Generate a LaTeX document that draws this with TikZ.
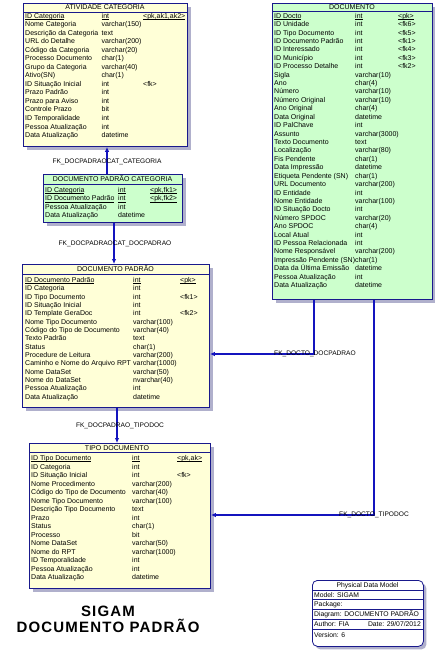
\documentclass[tikz,border=0pt]{standalone}
\usepackage{fontspec}
\setmainfont{Liberation Sans}
\newfontfamily\bigtitlefont[LetterSpace=8]{Liberation Sans}
\usetikzlibrary{arrows.meta,shadows}
\definecolor{tblyellow}{RGB}{255,255,215}
\definecolor{tblgreen}{RGB}{204,255,204}
\definecolor{tblborder}{RGB}{25,25,140}
\definecolor{fkblue}{RGB}{20,20,190}
\definecolor{shadowc}{RGB}{176,176,204}
\newcommand\pkul[1]{\setbox0\hbox{#1}\rlap{\rule[-1.1pt]{\wd0}{0.45pt}}\box0}
\newcommand\errows[7]{%
  \foreach \na/\ty/\ke [count=\i from 0] in {#7} {
    \node[cell] (#1n\i) at (#2, {#5+\i*#6}) {\na};
    \node[cell] (#1t\i) at (#3, {#5+\i*#6}) {\ty};
    \node[cell] (#1k\i) at (#4, {#5+\i*#6}) {\ke};
  }}
\begin{document}
\begin{tikzpicture}[x=1pt,y=-1pt,
  tbl/.style={draw=tblborder, line width=0.9pt, anchor=north west, inner sep=0pt,
    drop shadow={shadow xshift=4pt, shadow yshift=-4pt, fill=shadowc, opacity=1}},
  cell/.style={anchor=base west, inner sep=0pt, font=\fontsize{7}{8}\selectfont},
  ttl/.style={anchor=base, inner sep=0pt, font=\fontsize{7}{8}\selectfont},
  sep/.style={draw=tblborder, line width=0.8pt},
  fk/.style={draw=fkblue, line width=1.1pt, -{Latex[length=5pt,width=4.5pt]}},
  fklbl/.style={inner sep=0pt, font=\fontsize{6.6}{7}\selectfont, anchor=base},
  lg/.style={anchor=base west, inner sep=0pt, font=\fontsize{6.8}{8}\selectfont},
  big/.style={anchor=base, inner sep=0pt, font=\fontsize{15}{16}\bigtitlefont\bfseries},
 ]
\fill[white] (0,0) rectangle (434,650);
\useasboundingbox (0,0) rectangle (434,650);

% ---------- ATIVIDADE CATEGORIA
\node[tbl, fill=tblyellow, minimum width=164pt, minimum height=143pt] (atv) at (23,3) {};
\draw[sep] (23,12) -- (187,12);
\node[ttl] (atvT) at (105,10) {ATIVIDADE CATEGORIA};
\errows{atv}{25}{101.5}{143}{18.5}{8.5}{
 {\pkul{ID Categoria}}/{\pkul{int}}/{\pkul{<pk,ak1,ak2>}},
 Nome Categoria/varchar(150)/{},
 Descrição da Categoria/text/{},
 URL do Detalhe/varchar(200)/{},
 Código da Categoria/varchar(20)/{},
 Processo Documento/char(1)/{},
 Grupo da Categoria/varchar(40)/{},
 Ativo(SN)/char(1)/{},
 ID Situação Inicial/int/<fk>,
 Prazo Padrão/int/{},
 Prazo para Aviso/int/{},
 Controle Prazo/bit/{},
 ID Temporalidade/int/{},
 Pessoa Atualização/int/{},
 Data Atualização/datetime/{}}

% ---------- DOCUMENTO
\node[tbl, fill=tblgreen, minimum width=160pt, minimum height=296pt] (doc) at (272,3) {};
\draw[sep] (272,11.5) -- (432,11.5);
\node[ttl] (docT) at (352,9.5) {DOCUMENTO};
\errows{doc}{274}{355}{398}{18.2}{8.42}{
 {\pkul{ID Docto}}/{\pkul{int}}/{\pkul{<pk>}},
 ID Unidade/int/<fk6>,
 ID Tipo Documento/int/<fk5>,
 ID Documento Padrão/int/<fk1>,
 ID Interessado/int/<fk4>,
 ID Município/int/<fk3>,
 ID Processo Detalhe/int/<fk2>,
 Sigla/varchar(10)/{},
 Ano/char(4)/{},
 Número/varchar(10)/{},
 Número Original/varchar(10)/{},
 Ano Original/char(4)/{},
 Data Original/datetime/{},
 ID PalChave/int/{},
 Assunto/varchar(3000)/{},
 Texto Documento/text/{},
 Localização/varchar(80)/{},
 Fis Pendente/char(1)/{},
 Data Impressão/datetime/{},
 Etiqueta Pendente (SN)/char(1)/{},
 URL Documento/varchar(200)/{},
 ID Entidade/int/{},
 Nome Entidade/varchar(100)/{},
 ID Situação Docto/int/{},
 Número SPDOC/varchar(20)/{},
 Ano SPDOC/char(4)/{},
 Local Atual/int/{},
 ID Pessoa Relacionada/int/{},
 Nome Responsável/varchar(200)/{},
 Impressão Pendente (SN)/char(1)/{},
 Data da Última Emissão/datetime/{},
 Pessoa Atualização/int/{},
 Data Atualização/datetime/{}}

% ---------- DOCUMENTO PADRAO CATEGORIA
\node[tbl, fill=tblgreen, minimum width=139pt, minimum height=48pt] (dpc) at (43,174) {};
\draw[sep] (43,184) -- (182,184);
\node[ttl] (dpcT) at (112.5,181.5) {DOCUMENTO PADRÃO CATEGORIA};
\errows{dpc}{45}{118}{150}{192.5}{8.4}{
 {\pkul{ID Categoria}}/{\pkul{int}}/{\pkul{<pk,fk1>}},
 {\pkul{ID Documento Padrão}}/{\pkul{int}}/{\pkul{<pk,fk2>}},
 Pessoa Atualização/int/{},
 Data Atualização/datetime/{}}

% ---------- DOCUMENTO PADRAO
\node[tbl, fill=tblyellow, minimum width=187pt, minimum height=143pt] (dp) at (22,264) {};
\draw[sep] (22,274) -- (209,274);
\node[ttl] (dpT) at (115.5,271.5) {DOCUMENTO PADRÃO};
\errows{dp}{25}{133}{180}{282.5}{8.33}{
 {\pkul{ID Documento Padrão}}/{\pkul{int}}/{\pkul{<pk>}},
 ID Categoria/int/{},
 ID Tipo Documento/int/<fk1>,
 ID Situação Inicial/int/{},
 ID Template GeraDoc/int/<fk2>,
 Nome Tipo Documento/varchar(100)/{},
 Código do Tipo de Documento/varchar(40)/{},
 Texto Padrão/text/{},
 Status/char(1)/{},
 Procedure de Leitura/varchar(200)/{},
 Caminho e Nome do Arquivo RPT/varchar(1000)/{},
 Nome DataSet/varchar(50)/{},
 Nome do DataSet/nvarchar(40)/{},
 Pessoa Atualização/int/{},
 Data Atualização/datetime/{}}

% ---------- TIPO DOCUMENTO
\node[tbl, fill=tblyellow, minimum width=181pt, minimum height=145pt] (tipo) at (29,443) {};
\draw[sep] (29,452.5) -- (210,452.5);
\node[ttl] (tipoT) at (117,450) {TIPO DOCUMENTO};
\errows{tipo}{31}{132}{177}{460.5}{8.5}{
 {\pkul{ID Tipo Documento}}/{\pkul{int}}/{\pkul{<pk,ak>}},
 ID Categoria/int/{},
 ID Situação Inicial/int/<fk>,
 Nome Procedimento/varchar(200)/{},
 Código do Tipo de Documento/varchar(40)/{},
 Nome Tipo Documento/varchar(100)/{},
 Descrição Tipo Documento/text/{},
 Prazo/int/{},
 Status/char(1)/{},
 Processo/bit/{},
 Nome DataSet/varchar(50)/{},
 Nome do RPT/varchar(1000)/{},
 ID Temporalidade/int/{},
 Pessoa Atualização/int/{},
 Data Atualização/datetime/{}}

% ---------- connectors
\draw[fk] (dpc.north -| 107,0) -- (atv.south -| 107,0);
\node[fklbl] (l1) at (107,163.5) {FK\_DOCPADRAOCAT\_CATEGORIA};
\draw[fk] (dpc.south -| 114,0) -- (dp.north -| 114,0);
\node[fklbl] (l2) at (115,245.5) {FK\_DOCPADRAOCAT\_DOCPADRAO};
\draw[fk] (dp.south -| 117,0) -- (tipo.north -| 117,0);
\node[fklbl] (l3) at (120,427.5) {FK\_DOCPADRAO\_TIPODOC};
\draw[fk] (doc.south -| 314,0) |- (dp.east |- 0,354);
\node[fklbl] (l4) at (315,355) {FK\_DOCTO\_DOCPADRAO};
\draw[fk] (doc.south -| 374,0) |- (tipo.east |- 0,515);
\node[fklbl] (l5) at (374,516) {FK\_DOCTO\_TIPODOC};

% ---------- legend
\node[draw=tblborder, line width=0.8pt, rounded corners=5pt, fill=white, anchor=north west,
  minimum width=111pt, minimum height=66pt, inner sep=0pt,
  drop shadow={shadow xshift=3pt, shadow yshift=-3pt, fill=shadowc, opacity=1}] (legend) at (312,580) {};
\draw[sep] (312,590) -- (423,590);
\draw[sep] (312,599.5) -- (423,599.5);
\draw[sep] (312,609) -- (423,609);
\draw[sep] (312,619) -- (423,619);
\draw[sep] (312,629) -- (423,629);
\node[lg, anchor=base] (lgT) at (367.5,587.5) {Physical Data Model};
\node[lg] (lg1) at (314,597) {Model: SIGAM};
\node[lg] (lg2) at (314,606.7) {Package:};
\node[lg] (lg3) at (314,616.5) {Diagram: DOCUMENTO PADRÃO};
\node[lg] (lg4) at (314,626.5) {Author: FIA};
\node[lg, anchor=base east] (lg5) at (421,626.5) {Date: 29/07/2012};
\node[lg] (lg6) at (314,637) {Version: 6};

% ---------- big title
\node[big] (t1) at (108,616) {SIGAM};
\node[big] (t2) at (108,632.5) {DOCUMENTO PADRÃO};
\end{tikzpicture}
\end{document}
